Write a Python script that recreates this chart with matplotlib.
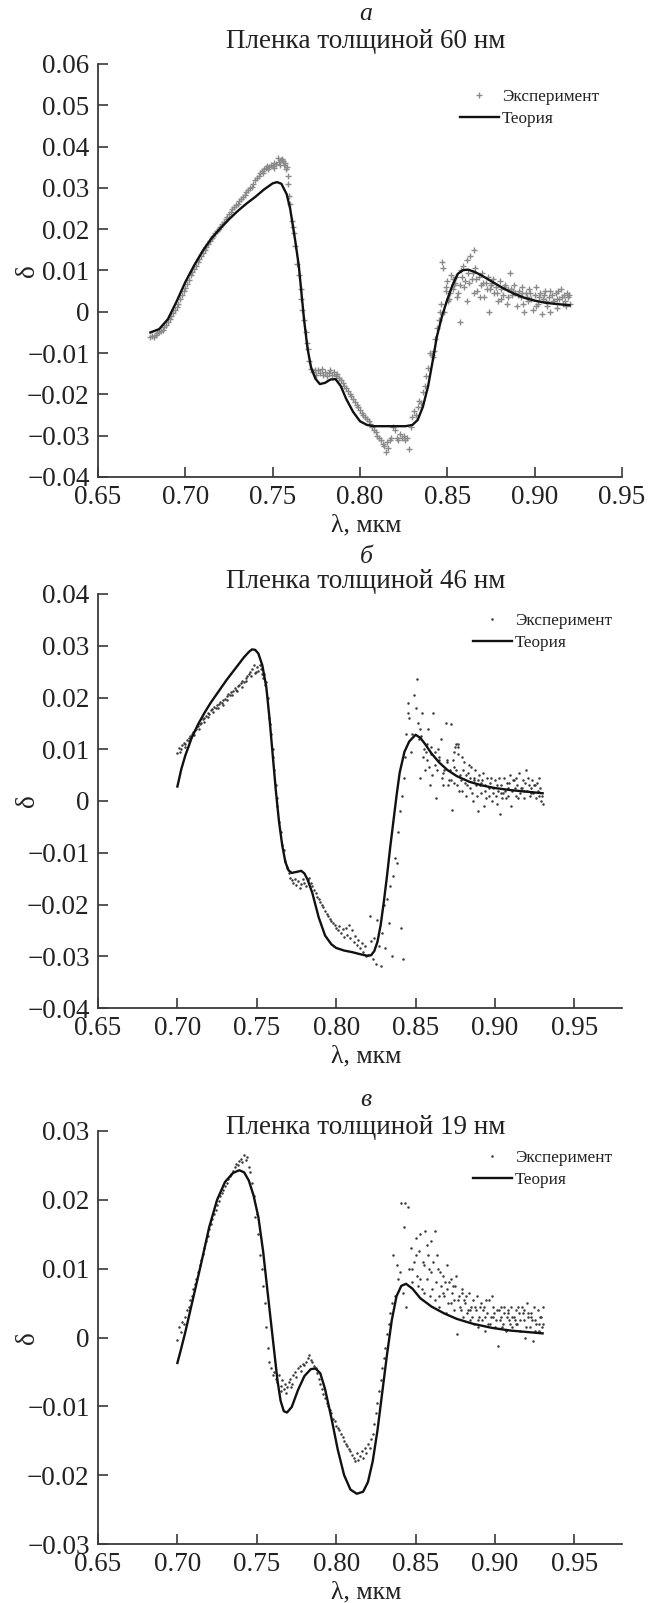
import matplotlib
matplotlib.use("Agg")
import matplotlib.pyplot as plt
import numpy as np

plt.rcParams['font.family'] = ['Liberation Serif', 'DejaVu Serif']

# ---------------- data ----------------
panel_letters = ['а', 'б', 'в']
panel_titles = ['Пленка толщиной 60 нм', 'Пленка толщиной 46 нм', 'Пленка толщиной 19 нм']
legend_labels = ['Эксперимент', 'Теория']
x_label = 'λ, мкм'
y_label = 'δ'

x_ticks = [0.65, 0.70, 0.75, 0.80, 0.85, 0.90, 0.95]
y_ticks_a = [-0.04, -0.03, -0.02, -0.01, 0.0, 0.01, 0.02, 0.03, 0.04, 0.05, 0.06]
y_ticks_b = [-0.04, -0.03, -0.02, -0.01, 0.0, 0.01, 0.02, 0.03, 0.04]
y_ticks_c = [-0.03, -0.02, -0.01, 0.0, 0.01, 0.02, 0.03]

# theory curves
theory_a_x = [0.680, 0.685, 0.690, 0.695, 0.700, 0.705, 0.710, 0.715, 0.720, 0.725, 0.730, 0.735, 0.740,
              0.745, 0.750, 0.7525, 0.755, 0.758, 0.760, 0.763, 0.765, 0.768, 0.770, 0.772, 0.7745, 0.777,
              0.780, 0.783, 0.786, 0.789, 0.792, 0.796, 0.800, 0.804, 0.808, 0.812, 0.820, 0.826, 0.830,
              0.833, 0.836, 0.839, 0.842, 0.844, 0.847, 0.850, 0.853, 0.856, 0.859, 0.862, 0.866, 0.870,
              0.876, 0.882, 0.888, 0.894, 0.900, 0.906, 0.912, 0.920]
theory_a_y = [-0.0050, -0.0042, -0.0018, 0.0025, 0.0072, 0.0112, 0.0148, 0.0178, 0.0202, 0.0224, 0.0244,
              0.0262, 0.0278, 0.0296, 0.0311, 0.0314, 0.0310, 0.0285, 0.0250, 0.0170, 0.0110, -0.0020,
              -0.0090, -0.0135, -0.0162, -0.0175, -0.0172, -0.0164, -0.0163, -0.0180, -0.0210, -0.0242,
              -0.0265, -0.0274, -0.0277, -0.0277, -0.0277, -0.0277, -0.0274, -0.0262, -0.0230, -0.0180,
              -0.0110, -0.0060, -0.0010, 0.0030, 0.0065, 0.0092, 0.0101, 0.0102, 0.0096, 0.0087, 0.0072,
              0.0057, 0.0044, 0.0034, 0.0027, 0.0022, 0.0019, 0.0016]

theory_b_x = [0.700, 0.7025, 0.705, 0.709, 0.713, 0.717, 0.721, 0.726, 0.731, 0.736, 0.742, 0.745, 0.747,
              0.749, 0.751, 0.7535, 0.756, 0.758, 0.760, 0.762, 0.764, 0.766, 0.768, 0.770, 0.772, 0.775,
              0.778, 0.780, 0.782, 0.785, 0.789, 0.793, 0.797, 0.800, 0.805, 0.810, 0.815, 0.8195, 0.822,
              0.824, 0.826, 0.828, 0.830, 0.832, 0.834, 0.836, 0.838, 0.840, 0.843, 0.846, 0.850, 0.853,
              0.856, 0.860, 0.865, 0.870, 0.876, 0.884, 0.892, 0.900, 0.910, 0.920, 0.930]
theory_b_y = [0.0028, 0.0062, 0.0088, 0.0122, 0.0148, 0.0170, 0.0190, 0.0212, 0.0234, 0.0254, 0.0278,
              0.0288, 0.0293, 0.0292, 0.0285, 0.0262, 0.0220, 0.0160, 0.0090, 0.0020, -0.0040, -0.0085,
              -0.0118, -0.0134, -0.0139, -0.0137, -0.0135, -0.0140, -0.0152, -0.0178, -0.0225, -0.0260,
              -0.0277, -0.0284, -0.0289, -0.0292, -0.0296, -0.0299, -0.0298, -0.0290, -0.0272, -0.0240,
              -0.0195, -0.0145, -0.0090, -0.0040, 0.0010, 0.0055, 0.0095, 0.0115, 0.0128, 0.0122, 0.0110,
              0.0092, 0.0074, 0.0060, 0.0048, 0.0037, 0.0030, 0.0025, 0.0021, 0.0018, 0.0015]

theory_c_x = [0.700, 0.7025, 0.705, 0.708, 0.711, 0.715, 0.720, 0.725, 0.730, 0.735, 0.739, 0.742, 0.745,
              0.748, 0.751, 0.754, 0.757, 0.760, 0.763, 0.765, 0.767, 0.769, 0.772, 0.776, 0.780, 0.784,
              0.787, 0.790, 0.793, 0.797, 0.801, 0.805, 0.809, 0.813, 0.817, 0.820, 0.823, 0.826, 0.829,
              0.832, 0.835, 0.838, 0.841, 0.844, 0.848, 0.853, 0.860, 0.868, 0.876, 0.886, 0.898, 0.910,
              0.920, 0.930]
theory_c_y = [-0.0037, -0.0015, 0.0008, 0.0038, 0.0068, 0.0108, 0.0160, 0.0200, 0.0226, 0.0239, 0.0243,
              0.0240, 0.0228, 0.0206, 0.0175, 0.0125, 0.0062, 0.0000, -0.0062, -0.0092, -0.0107, -0.0109,
              -0.0101, -0.0076, -0.0056, -0.0046, -0.0045, -0.0052, -0.0075, -0.0117, -0.0163, -0.0200,
              -0.0221, -0.0227, -0.0224, -0.0210, -0.0180, -0.0135, -0.0080, -0.0025, 0.0025, 0.0060,
              0.0075, 0.0078, 0.0071, 0.0057, 0.0045, 0.0035, 0.0027, 0.0020, 0.0014, 0.0010, 0.0008, 0.0006]

# experimental points (wavelength, delta)
exp_a = [
    (0.680, -0.0062), (0.681, -0.0058), (0.682, -0.0060), (0.683, -0.0055), (0.684, -0.0052), (0.685, -0.0050),
    (0.686, -0.0046), (0.687, -0.0043), (0.688, -0.0038), (0.689, -0.0032), (0.690, -0.0025), (0.691, -0.0018),
    (0.692, -0.0010), (0.693, -0.0003), (0.694, 0.0005), (0.695, 0.0012), (0.696, 0.0020), (0.697, 0.0030),
    (0.698, 0.0040), (0.699, 0.0050), (0.700, 0.0058), (0.701, 0.0068), (0.702, 0.0078), (0.703, 0.0088),
    (0.704, 0.0096), (0.705, 0.0104), (0.706, 0.0112), (0.707, 0.0120), (0.708, 0.0128), (0.709, 0.0136),
    (0.710, 0.0143), (0.711, 0.0150), (0.712, 0.0158), (0.713, 0.0165), (0.714, 0.0172), (0.715, 0.0178),
    (0.716, 0.0184), (0.717, 0.0190), (0.718, 0.0195), (0.719, 0.0200), (0.720, 0.0206), (0.721, 0.0212),
    (0.722, 0.0218), (0.723, 0.0224), (0.724, 0.0230), (0.725, 0.0236), (0.726, 0.0242), (0.727, 0.0248),
    (0.728, 0.0254), (0.729, 0.0258), (0.730, 0.0262), (0.731, 0.0268), (0.732, 0.0272), (0.733, 0.0278),
    (0.734, 0.0284), (0.735, 0.0290), (0.736, 0.0295), (0.737, 0.0300), (0.738, 0.0303), (0.739, 0.0310),
    (0.740, 0.0318), (0.741, 0.0324), (0.742, 0.0330), (0.743, 0.0336), (0.744, 0.0342), (0.745, 0.0345),
    (0.746, 0.0348), (0.747, 0.0352), (0.748, 0.0350), (0.749, 0.0355), (0.750, 0.0352), (0.751, 0.0360),
    (0.752, 0.0358), (0.753, 0.0372), (0.754, 0.0355), (0.755, 0.0368), (0.756, 0.0365), (0.757, 0.0360),
    (0.758, 0.0350), (0.7445, 0.0335), (0.7475, 0.0345), (0.7505, 0.0348), (0.7535, 0.0362), (0.7555, 0.0370),
    (0.7565, 0.0355), (0.7575, 0.0345), (0.7585, 0.0330),
    (0.759, 0.0310), (0.7595, 0.0280), (0.760, 0.0260), (0.761, 0.0220), (0.7615, 0.0205), (0.762, 0.0190),
    (0.763, 0.0160), (0.764, 0.0115), (0.765, 0.0090), (0.766, 0.0055), (0.7665, 0.0030), (0.767, 0.0005),
    (0.768, -0.0020), (0.769, -0.0050), (0.7695, -0.0075), (0.770, -0.0090), (0.771, -0.0120), (0.772, -0.0138),
    (0.773, -0.0145), (0.774, -0.0140), (0.775, -0.0152), (0.776, -0.0142), (0.777, -0.0148), (0.778, -0.0138),
    (0.779, -0.0152), (0.780, -0.0145), (0.781, -0.0155), (0.782, -0.0148), (0.783, -0.0142), (0.784, -0.0152),
    (0.785, -0.0145), (0.786, -0.0155), (0.787, -0.0150), (0.788, -0.0160), (0.789, -0.0165), (0.790, -0.0172),
    (0.791, -0.0180), (0.792, -0.0185), (0.793, -0.0192), (0.794, -0.0200), (0.795, -0.0205), (0.796, -0.0210),
    (0.797, -0.0218), (0.798, -0.0225), (0.799, -0.0230), (0.800, -0.0238), (0.801, -0.0245), (0.802, -0.0250),
    (0.803, -0.0255), (0.804, -0.0260), (0.805, -0.0265), (0.806, -0.0272), (0.807, -0.0280), (0.808, -0.0285),
    (0.809, -0.0292), (0.810, -0.0300), (0.811, -0.0305), (0.812, -0.0310), (0.813, -0.0320), (0.814, -0.0325),
    (0.815, -0.0340), (0.8155, -0.0315), (0.816, -0.0330), (0.817, -0.0310), (0.818, -0.0305), (0.819, -0.0280),
    (0.820, -0.0285), (0.821, -0.0305), (0.822, -0.0310), (0.823, -0.0295), (0.824, -0.0305), (0.825, -0.0300),
    (0.826, -0.0310), (0.827, -0.0305), (0.828, -0.0332), (0.829, -0.0280), (0.830, -0.0255), (0.831, -0.0240),
    (0.832, -0.0250), (0.833, -0.0230), (0.834, -0.0215), (0.835, -0.0220), (0.836, -0.0195), (0.837, -0.0180),
    (0.838, -0.0155), (0.839, -0.0135), (0.840, -0.0100), (0.841, -0.0105), (0.842, -0.0110), (0.8425, -0.0095),
    (0.843, -0.0065), (0.844, -0.0040), (0.845, -0.0020), (0.846, 0.0000), (0.8465, 0.0020), (0.847, 0.0120),
    (0.8475, 0.0105), (0.848, 0.0000), (0.849, 0.0050), (0.850, 0.0075), (0.851, 0.0030), (0.852, 0.0090),
    (0.853, 0.0080), (0.854, 0.0065), (0.855, 0.0085), (0.856, 0.0045), (0.857, -0.0025), (0.858, 0.0100),
    (0.859, 0.0110), (0.860, 0.0075), (0.861, 0.0125), (0.862, 0.0095), (0.863, 0.0135), (0.864, 0.0080),
    (0.865, 0.0150), (0.866, 0.0105), (0.867, 0.0050), (0.868, 0.0085), (0.869, 0.0065), (0.870, 0.0095),
    (0.871, 0.0035), (0.872, 0.0070), (0.873, 0.0085), (0.874, 0.0000), (0.875, 0.0065), (0.876, 0.0080),
    (0.877, 0.0045), (0.878, 0.0060), (0.879, 0.0025), (0.880, 0.0075), (0.881, 0.0055), (0.882, 0.0040),
    (0.883, 0.0065), (0.884, 0.0020), (0.885, 0.0055), (0.886, 0.0095), (0.887, 0.0040), (0.888, 0.0065),
    (0.889, 0.0045), (0.890, 0.0015), (0.891, 0.0050), (0.892, 0.0035), (0.893, 0.0060), (0.894, 0.0000),
    (0.895, 0.0045), (0.896, 0.0025), (0.897, 0.0055), (0.898, 0.0030), (0.899, 0.0005), (0.900, 0.0040),
    (0.901, 0.0060), (0.902, 0.0020), (0.903, 0.0045), (0.904, -0.0005), (0.905, 0.0030), (0.906, 0.0050),
    (0.907, 0.0015), (0.908, 0.0035), (0.909, 0.0000), (0.910, 0.0040), (0.911, 0.0025), (0.912, 0.0045),
    (0.913, 0.0010), (0.914, 0.0030), (0.915, 0.0055), (0.916, 0.0020), (0.917, 0.0040), (0.918, 0.0015),
    (0.919, 0.0035), (0.920, 0.0020),
    (0.8505, 0.0025), (0.8535, 0.0055), (0.8555, 0.0035), (0.8575, 0.0065), (0.8615, 0.0025), (0.8655, 0.0045),
    (0.8685, 0.0035), (0.8745, 0.0055), (0.8805, 0.0030), (0.8865, 0.0055), (0.8905, 0.0040), (0.8955, 0.0035),
    (0.9005, 0.0015), (0.9055, 0.0040), (0.9105, 0.0025), (0.9155, 0.0035), (0.9185, 0.0045),
    (0.8495, 0.0060), (0.8515, 0.0045), (0.8545, 0.0070), (0.8585, 0.0085), (0.8595, 0.0060), (0.8625, 0.0070),
    (0.8645, 0.0095), (0.8665, 0.0080), (0.8705, 0.0070), (0.8725, 0.0055), (0.8755, 0.0070), (0.8785, 0.0045),
    (0.8825, 0.0060), (0.8845, 0.0035), (0.8875, 0.0050), (0.8925, 0.0045), (0.8935, 0.0020), (0.8975, 0.0045),
    (0.9025, 0.0035), (0.9065, 0.0025), (0.9085, 0.0050), (0.9125, 0.0030), (0.9135, 0.0050), (0.9175, 0.0025),
    (0.9195, 0.0040),
]

exp_b = [
    (0.700, 0.0093), (0.701, 0.0102), (0.702, 0.0100), (0.703, 0.0108), (0.704, 0.0112), (0.705, 0.0110),
    (0.706, 0.0118), (0.707, 0.0122), (0.708, 0.0125), (0.709, 0.0130), (0.710, 0.0133), (0.711, 0.0138),
    (0.712, 0.0140), (0.713, 0.0145), (0.714, 0.0148), (0.715, 0.0150), (0.716, 0.0158), (0.717, 0.0160),
    (0.718, 0.0165), (0.719, 0.0170), (0.720, 0.0168), (0.721, 0.0175), (0.722, 0.0178), (0.723, 0.0182),
    (0.724, 0.0180), (0.725, 0.0186), (0.726, 0.0188), (0.727, 0.0192), (0.728, 0.0190), (0.729, 0.0196),
    (0.730, 0.0198), (0.731, 0.0202), (0.732, 0.0206), (0.733, 0.0204), (0.734, 0.0210), (0.735, 0.0212),
    (0.736, 0.0218), (0.737, 0.0215), (0.738, 0.0222), (0.739, 0.0225), (0.740, 0.0228), (0.741, 0.0232),
    (0.742, 0.0230), (0.743, 0.0238), (0.744, 0.0242), (0.745, 0.0246), (0.746, 0.0250), (0.747, 0.0255),
    (0.748, 0.0262), (0.749, 0.0248), (0.750, 0.0258), (0.751, 0.0252), (0.752, 0.0262), (0.753, 0.0245),
    (0.754, 0.0238), (0.755, 0.0225), (0.756, 0.0230), (0.757, 0.0200), (0.758, 0.0160), (0.7585, 0.0148),
    (0.759, 0.0130), (0.760, 0.0100), (0.7605, 0.0085), (0.761, 0.0060), (0.762, 0.0030), (0.7625, 0.0005),
    (0.763, -0.0010), (0.764, -0.0040), (0.765, -0.0060), (0.766, -0.0085), (0.767, -0.0095), (0.768, -0.0115),
    (0.769, -0.0130), (0.770, -0.0140), (0.771, -0.0148), (0.772, -0.0152), (0.773, -0.0158), (0.774, -0.0150),
    (0.775, -0.0162), (0.776, -0.0155), (0.777, -0.0168), (0.778, -0.0160), (0.779, -0.0150), (0.780, -0.0158),
    (0.781, -0.0165), (0.782, -0.0152), (0.783, -0.0148), (0.784, -0.0158), (0.785, -0.0165), (0.786, -0.0172),
    (0.787, -0.0178), (0.788, -0.0185), (0.789, -0.0190), (0.790, -0.0195), (0.791, -0.0200), (0.792, -0.0205),
    (0.793, -0.0212), (0.794, -0.0218), (0.795, -0.0222), (0.796, -0.0228), (0.797, -0.0232), (0.798, -0.0236),
    (0.799, -0.0240), (0.800, -0.0245), (0.801, -0.0250), (0.802, -0.0242), (0.803, -0.0255), (0.804, -0.0248),
    (0.805, -0.0262), (0.806, -0.0245), (0.807, -0.0258), (0.808, -0.0240), (0.809, -0.0265), (0.810, -0.0250),
    (0.811, -0.0272), (0.812, -0.0260), (0.813, -0.0278), (0.814, -0.0268), (0.815, -0.0285), (0.816, -0.0275),
    (0.817, -0.0292), (0.818, -0.0280), (0.819, -0.0300), (0.820, -0.0298), (0.821, -0.0222), (0.822, -0.0270),
    (0.823, -0.0305), (0.824, -0.0265), (0.825, -0.0315), (0.826, -0.0230), (0.827, -0.0280), (0.828, -0.0318),
    (0.829, -0.0255), (0.830, -0.0200), (0.831, -0.0285), (0.832, -0.0190), (0.833, -0.0235), (0.834, -0.0165),
    (0.835, -0.0300), (0.836, -0.0145), (0.837, -0.0110), (0.838, -0.0120), (0.839, -0.0060), (0.840, -0.0020),
    (0.841, -0.0245), (0.842, -0.0305), (0.8415, 0.0010), (0.843, 0.0045), (0.8435, 0.0085), (0.844, 0.0130),
    (0.845, 0.0190), (0.8455, 0.0170), (0.846, 0.0160), (0.847, 0.0095), (0.848, 0.0130), (0.849, 0.0205),
    (0.850, 0.0180), (0.851, 0.0235), (0.8515, 0.0150), (0.852, 0.0120), (0.853, 0.0140), (0.854, 0.0170),
    (0.855, 0.0100), (0.856, 0.0060), (0.857, 0.0080), (0.858, 0.0140), (0.859, 0.0030), (0.860, 0.0090),
    (0.861, 0.0170), (0.862, 0.0070), (0.863, 0.0005), (0.864, 0.0100), (0.865, 0.0080), (0.866, 0.0120),
    (0.867, 0.0030), (0.868, 0.0060), (0.869, 0.0150), (0.870, 0.0075), (0.871, 0.0040), (0.872, 0.0148),
    (0.873, -0.0018), (0.874, 0.0065), (0.875, 0.0105), (0.876, 0.0030), (0.877, 0.0110), (0.878, 0.0050),
    (0.879, 0.0020), (0.880, 0.0060), (0.881, 0.0035), (0.882, 0.0010), (0.883, 0.0055), (0.884, 0.0025),
    (0.885, 0.0065), (0.886, 0.0000), (0.887, 0.0045), (0.888, 0.0030), (0.889, -0.0020), (0.890, 0.0050),
    (0.891, 0.0015), (0.892, 0.0040), (0.893, -0.0010), (0.894, 0.0030), (0.895, 0.0045), (0.896, 0.0010),
    (0.897, 0.0035), (0.898, 0.0000), (0.899, 0.0025), (0.900, 0.0040), (0.901, -0.0005), (0.902, 0.0020),
    (0.903, -0.0025), (0.904, 0.0030), (0.905, 0.0015), (0.906, 0.0045), (0.907, 0.0005), (0.908, 0.0025),
    (0.909, 0.0035), (0.910, -0.0010), (0.911, 0.0020), (0.912, 0.0040), (0.913, 0.0010), (0.914, 0.0030),
    (0.915, 0.0055), (0.916, 0.0015), (0.917, 0.0025), (0.918, 0.0005), (0.919, 0.0035), (0.920, 0.0020),
    (0.921, 0.0045), (0.922, 0.0010), (0.923, 0.0025), (0.924, 0.0015), (0.925, 0.0030), (0.926, 0.0005),
    (0.927, 0.0020), (0.928, 0.0010), (0.929, 0.0000), (0.930, -0.0005),
    (0.8525, 0.0045), (0.8575, 0.0110), (0.8625, 0.0095), (0.8675, 0.0055), (0.8725, 0.0040), (0.8765, 0.0090),
    (0.8815, 0.0050), (0.8865, 0.0040), (0.8915, 0.0035), (0.8965, 0.0025), (0.9015, 0.0030), (0.9065, 0.0020),
    (0.9115, 0.0040), (0.9165, 0.0025), (0.9215, 0.0030), (0.9265, 0.0035), (0.8745, 0.0035), (0.8795, 0.0085),
    (0.8845, 0.0045), (0.8895, 0.0040),
    (0.8535, 0.0125), (0.8545, 0.0085), (0.8565, 0.0095), (0.8585, 0.0065), (0.8595, 0.0105), (0.8605, 0.0050),
    (0.8635, 0.0060), (0.8645, 0.0085), (0.8665, 0.0045), (0.8695, 0.0080), (0.8705, 0.0030), (0.8715, 0.0060),
    (0.8735, 0.0080), (0.8755, 0.0060), (0.8775, 0.0020), (0.8785, 0.0040), (0.8805, 0.0075), (0.8825, 0.0030),
    (0.8835, 0.0070), (0.8855, 0.0015), (0.8875, 0.0060), (0.8885, 0.0010), (0.8905, 0.0030), (0.8925, 0.0055),
    (0.8935, 0.0020), (0.8945, 0.0005), (0.8975, 0.0045), (0.8985, 0.0015), (0.9005, 0.0010), (0.9025, 0.0045),
    (0.9035, 0.0015), (0.9045, 0.0005), (0.9075, 0.0035), (0.9085, 0.0010), (0.9095, 0.0050), (0.9125, 0.0025),
    (0.9135, 0.0045), (0.9145, 0.0005), (0.9175, 0.0040), (0.9185, 0.0020), (0.9195, 0.0060), (0.9225, 0.0015),
    (0.9235, 0.0040), (0.9245, 0.0030), (0.9275, 0.0045), (0.9285, 0.0025), (0.9295, 0.0010), (0.8765, 0.0105),
    (0.8755, 0.0110), (0.8745, 0.0095),
    (0.7015, 0.0095), (0.7045, 0.0105), (0.7075, 0.0115), (0.7105, 0.0128), (0.7135, 0.0140), (0.7165, 0.0152),
    (0.7195, 0.0162), (0.7225, 0.0172), (0.7255, 0.0180), (0.7285, 0.0185), (0.7315, 0.0195), (0.7345, 0.0205),
    (0.7375, 0.0212), (0.7405, 0.0220), (0.7435, 0.0232), (0.7465, 0.0242), (0.7495, 0.0250), (0.7525, 0.0255),
    (0.7545, 0.0245),
]

exp_c = [
    (0.700, -0.0003), (0.701, 0.0015), (0.702, 0.0008), (0.703, 0.0022), (0.704, 0.0020), (0.705, 0.0030),
    (0.706, 0.0040), (0.707, 0.0045), (0.708, 0.0055), (0.709, 0.0060), (0.710, 0.0070), (0.711, 0.0078),
    (0.712, 0.0085), (0.713, 0.0095), (0.714, 0.0105), (0.715, 0.0112), (0.716, 0.0122), (0.717, 0.0130),
    (0.718, 0.0140), (0.719, 0.0148), (0.720, 0.0158), (0.721, 0.0165), (0.722, 0.0172), (0.723, 0.0180),
    (0.724, 0.0185), (0.725, 0.0192), (0.726, 0.0198), (0.727, 0.0205), (0.728, 0.0210), (0.729, 0.0215),
    (0.730, 0.0220), (0.731, 0.0225), (0.732, 0.0230), (0.733, 0.0234), (0.734, 0.0238), (0.735, 0.0242),
    (0.736, 0.0248), (0.737, 0.0252), (0.738, 0.0250), (0.739, 0.0256), (0.740, 0.0260), (0.741, 0.0255),
    (0.742, 0.0265), (0.743, 0.0258), (0.744, 0.0262), (0.745, 0.0248), (0.746, 0.0240), (0.747, 0.0225),
    (0.748, 0.0205), (0.749, 0.0175), (0.750, 0.0180), (0.751, 0.0150), (0.752, 0.0120), (0.753, 0.0100),
    (0.754, 0.0075), (0.755, 0.0050), (0.756, 0.0015), (0.757, -0.0015), (0.758, -0.0035), (0.759, -0.0045),
    (0.760, -0.0055), (0.761, -0.0050), (0.762, -0.0060), (0.763, -0.0065), (0.764, -0.0055), (0.765, -0.0070),
    (0.766, -0.0062), (0.767, -0.0075), (0.768, -0.0068), (0.769, -0.0072), (0.770, -0.0065), (0.771, -0.0060),
    (0.772, -0.0068), (0.773, -0.0055), (0.774, -0.0050), (0.775, -0.0058), (0.776, -0.0045), (0.777, -0.0042),
    (0.778, -0.0048), (0.779, -0.0038), (0.780, -0.0040), (0.781, -0.0035), (0.782, -0.0030), (0.783, -0.0025),
    (0.784, -0.0032), (0.785, -0.0035), (0.786, -0.0042), (0.787, -0.0045), (0.788, -0.0052), (0.789, -0.0060),
    (0.790, -0.0068), (0.791, -0.0075), (0.792, -0.0082), (0.793, -0.0088), (0.794, -0.0095), (0.795, -0.0100),
    (0.796, -0.0105), (0.797, -0.0110), (0.798, -0.0118), (0.799, -0.0122), (0.800, -0.0128), (0.801, -0.0132),
    (0.802, -0.0135), (0.803, -0.0140), (0.804, -0.0145), (0.805, -0.0150), (0.806, -0.0155), (0.807, -0.0158),
    (0.808, -0.0162), (0.809, -0.0165), (0.810, -0.0170), (0.811, -0.0175), (0.812, -0.0180), (0.813, -0.0168),
    (0.814, -0.0178), (0.815, -0.0172), (0.816, -0.0165), (0.817, -0.0175), (0.818, -0.0160), (0.819, -0.0168),
    (0.820, -0.0155), (0.821, -0.0160), (0.822, -0.0148), (0.823, -0.0140), (0.824, -0.0125), (0.825, -0.0110),
    (0.826, -0.0095), (0.827, -0.0078), (0.828, -0.0062), (0.829, -0.0045), (0.830, -0.0030), (0.831, -0.0015),
    (0.832, 0.0005), (0.833, 0.0020), (0.834, 0.0035), (0.835, 0.0050), (0.836, 0.0120), (0.837, 0.0060),
    (0.838, 0.0105), (0.839, 0.0085), (0.840, 0.0095), (0.841, 0.0195), (0.842, 0.0065), (0.843, 0.0160),
    (0.844, 0.0045), (0.845, 0.0190), (0.846, 0.0100), (0.847, 0.0130), (0.848, 0.0080), (0.849, 0.0110),
    (0.850, 0.0145), (0.851, 0.0090), (0.852, 0.0125), (0.853, 0.0150), (0.854, 0.0070), (0.855, 0.0105),
    (0.856, 0.0155), (0.857, 0.0085), (0.858, 0.0120), (0.859, 0.0060), (0.860, 0.0095), (0.861, 0.0110),
    (0.862, 0.0055), (0.863, 0.0080), (0.864, 0.0100), (0.865, 0.0045), (0.866, 0.0075), (0.867, 0.0090),
    (0.868, 0.0060), (0.869, 0.0035), (0.870, 0.0070), (0.871, 0.0080), (0.872, 0.0050), (0.873, 0.0065),
    (0.874, 0.0040), (0.875, 0.0075), (0.876, 0.0005), (0.877, 0.0055), (0.878, 0.0045), (0.879, 0.0065),
    (0.880, 0.0030), (0.881, 0.0050), (0.882, 0.0060), (0.883, 0.0040), (0.884, 0.0025), (0.885, 0.0045),
    (0.886, 0.0055), (0.887, 0.0020), (0.888, 0.0040), (0.889, 0.0015), (0.890, 0.0030), (0.891, 0.0050),
    (0.892, 0.0025), (0.893, 0.0045), (0.894, 0.0010), (0.895, 0.0035), (0.896, 0.0055), (0.897, 0.0020),
    (0.898, 0.0060), (0.899, 0.0030), (0.900, 0.0015), (0.901, 0.0040), (0.902, -0.0012), (0.903, 0.0025),
    (0.904, 0.0045), (0.905, 0.0020), (0.906, 0.0035), (0.907, 0.0010), (0.908, 0.0040), (0.909, 0.0025),
    (0.910, 0.0045), (0.911, 0.0015), (0.912, 0.0030), (0.913, 0.0040), (0.914, 0.0020), (0.915, 0.0035),
    (0.916, 0.0010), (0.917, 0.0045), (0.918, 0.0025), (0.919, 0.0000), (0.920, 0.0050), (0.921, 0.0030),
    (0.922, 0.0015), (0.923, 0.0035), (0.924, -0.0005), (0.925, 0.0025), (0.926, 0.0020), (0.927, 0.0040),
    (0.928, 0.0010), (0.929, 0.0030), (0.930, 0.0045),
    (0.8435, 0.0195), (0.8475, 0.0100), (0.8525, 0.0085), (0.8575, 0.0135), (0.8625, 0.0155), (0.8675, 0.0065),
    (0.8725, 0.0085), (0.8775, 0.0060), (0.8825, 0.0035), (0.8875, 0.0045), (0.8925, 0.0040), (0.8975, 0.0030),
    (0.9025, 0.0040), (0.9075, 0.0030), (0.9125, 0.0025), (0.9175, 0.0035), (0.9225, 0.0030), (0.9275, 0.0020),
    (0.7655, -0.0078), (0.7685, -0.0080), (0.7715, -0.0072),
    (0.8505, 0.0120), (0.8515, 0.0075), (0.8545, 0.0110), (0.8555, 0.0065), (0.8585, 0.0100), (0.8595, 0.0140),
    (0.8605, 0.0070), (0.8635, 0.0120), (0.8645, 0.0060), (0.8655, 0.0095), (0.8685, 0.0080), (0.8695, 0.0105),
    (0.8705, 0.0050), (0.8735, 0.0075), (0.8745, 0.0055), (0.8755, 0.0090), (0.8785, 0.0040), (0.8795, 0.0070),
    (0.8805, 0.0055), (0.8835, 0.0065), (0.8845, 0.0040), (0.8855, 0.0030), (0.8885, 0.0060), (0.8895, 0.0025),
    (0.8905, 0.0045), (0.8935, 0.0030), (0.8945, 0.0055), (0.8955, 0.0020), (0.8985, 0.0045), (0.8995, 0.0035),
    (0.9005, 0.0025), (0.9035, 0.0030), (0.9045, 0.0015), (0.9055, 0.0045), (0.9085, 0.0035), (0.9095, 0.0020),
    (0.9105, 0.0030), (0.9135, 0.0020), (0.9145, 0.0045), (0.9155, 0.0025), (0.9185, 0.0040), (0.9195, 0.0015),
    (0.9205, 0.0035), (0.9235, 0.0025), (0.9245, 0.0045), (0.9255, 0.0010), (0.9285, 0.0030), (0.9295, 0.0015),
    (0.9305, 0.0020),
]

# ---------------- figure ----------------
W, H = 658, 1603
fig = plt.figure(figsize=(W / 100, H / 100), dpi=100)


def fx(px):
    return px / W


def fy(py):
    return 1 - py / H


axes_px = [(98, 622, 64, 477), (98, 622, 594, 1008), (98, 622, 1131, 1544)]
xlims = [(0.65, 0.95), (0.65, 0.98), (0.65, 0.98)]
ylims = [(-0.04, 0.06), (-0.04, 0.04), (-0.03, 0.03)]
yticks_all = [y_ticks_a, y_ticks_b, y_ticks_c]
theories = [(theory_a_x, theory_a_y), (theory_b_x, theory_b_y), (theory_c_x, theory_c_y)]
exps = [exp_a, exp_b, exp_c]
letter_y = [14, 557, 1100]
title_y = [41, 582, 1127]
xlabel_y = [525, 1056, 1592]
legend_anchor = [(0.69, 0.940), (0.715, 0.955), (0.715, 0.955)]

spine_col = '#3a3a3a'
text_col = '#222222'
tick_fs = 19.5


def fmt_y(v):
    return '0' if abs(v) < 1e-12 else ('%.2f' % v).replace('-', '\u2212')


def fmt_x(v):
    return '%.2f' % v


for i in range(3):
    l, r, t, b = axes_px[i]
    ax = fig.add_axes([fx(l), fy(b), fx(r) - fx(l), (b - t) / H])
    ax.set_xlim(*xlims[i])
    ax.set_ylim(*ylims[i])
    for s in ['top', 'right']:
        ax.spines[s].set_visible(False)
    for s in ['left', 'bottom']:
        ax.spines[s].set_color(spine_col)
        ax.spines[s].set_linewidth(1.3)
    ax.set_xticks(x_ticks)
    ax.set_xticklabels([fmt_x(v) for v in x_ticks])
    ax.set_yticks(yticks_all[i])
    ax.set_yticklabels([fmt_y(v) for v in yticks_all[i]])
    ax.tick_params(direction='in', length=7, width=1.2, color=spine_col, labelsize=tick_fs,
                   labelcolor=text_col)
    ax.tick_params(axis='y', pad=6)
    ax.tick_params(axis='x', pad=6)

    ex = np.array(exps[i])
    if i == 0:
        ax.plot(ex[:, 0], ex[:, 1], linestyle='none', marker='+', markersize=4.5, mew=1.0,
                color='#8a8a8a', label=legend_labels[0], zorder=2)
    else:
        ax.plot(ex[:, 0], ex[:, 1], linestyle='none', marker='.', markersize=3.6, mew=0,
                color='#3a3a3a', label=legend_labels[0], zorder=2)
    tx, ty = theories[i]
    ax.plot(tx, ty, color='#111111', linewidth=1.7, label=legend_labels[1], zorder=3)

    leg = ax.legend(loc='upper left', bbox_to_anchor=legend_anchor[i], frameon=False,
                    fontsize=12.4, handlelength=2.3, handletextpad=0.15, borderpad=0,
                    labelspacing=0.35, borderaxespad=0)
    for txt in leg.get_texts():
        txt.set_color(text_col)

    ax.set_ylabel(y_label, fontsize=tick_fs, color=text_col)
    ax.yaxis.set_label_coords((40 - l) / (r - l), 0.5)

    fig.text(fx(366), fy(letter_y[i]), panel_letters[i], ha='center', va='center',
             fontsize=18.5, style='italic', color=text_col)
    fig.text(fx(366), fy(title_y[i]), panel_titles[i], ha='center', va='center',
             fontsize=19.5, color=text_col)
    fig.text(fx(366), fy(xlabel_y[i]), x_label, ha='center', va='center',
             fontsize=18.5, color=text_col)

fig.savefig('out.png', dpi=100)
